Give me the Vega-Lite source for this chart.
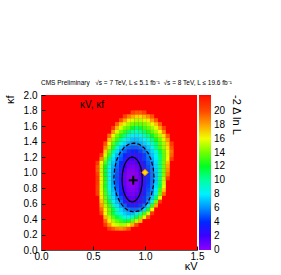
{
"$schema":"https://vega.github.io/schema/vega-lite/v6.json",
"width":156,"height":155,
"autosize":"none",
"padding":{"left":41,"top":95,"right":84,"bottom":25},
"background":"white",
"config":{"view":{"fill":"#ff0000","stroke":null},"font":"Liberation Sans","axis":{"labelOverlap":false}},
"title":{"text":"CMS Preliminary\u00a0\u00a0 √s = 7 TeV, L ≤ 5.1 fb⁻¹\u00a0 √s = 8 TeV, L ≤ 19.6 fb⁻¹","anchor":"start","frame":"group","fontSize":6.5,"fontWeight":"normal","offset":4,"font":"Liberation Sans","color":"black"},
"datasets":{
"cells":[
{"x":0.656,"y":0.275,"z":20.8},{"x":0.694,"y":0.275,"z":19.7},{"x":0.731,"y":0.275,"z":18.9},{"x":0.769,"y":0.275,"z":18.4},{"x":0.806,"y":0.275,"z":19.0},{"x":0.844,"y":0.275,"z":19.9},
{"x":0.619,"y":0.325,"z":20.7},{"x":0.656,"y":0.325,"z":18.3},{"x":0.694,"y":0.325,"z":16.3},{"x":0.731,"y":0.325,"z":15.3},{"x":0.769,"y":0.325,"z":14.6},{"x":0.806,"y":0.325,"z":14.8},{"x":0.844,"y":0.325,"z":15.8},{"x":0.881,"y":0.325,"z":17.6},{"x":0.919,"y":0.325,"z":20.2},
{"x":0.619,"y":0.375,"z":19.3},{"x":0.656,"y":0.375,"z":16.4},{"x":0.694,"y":0.375,"z":14.7},{"x":0.731,"y":0.375,"z":13.4},{"x":0.769,"y":0.375,"z":12.4},{"x":0.806,"y":0.375,"z":11.5},{"x":0.844,"y":0.375,"z":12.1},{"x":0.881,"y":0.375,"z":13.3},{"x":0.919,"y":0.375,"z":14.9},{"x":0.956,"y":0.375,"z":17.5},
{"x":0.619,"y":0.425,"z":17.5},{"x":0.656,"y":0.425,"z":14.9},{"x":0.694,"y":0.425,"z":13.1},{"x":0.731,"y":0.425,"z":11.6},{"x":0.769,"y":0.425,"z":10.2},{"x":0.806,"y":0.425,"z":9.0},{"x":0.844,"y":0.425,"z":8.2},{"x":0.881,"y":0.425,"z":9.5},{"x":0.919,"y":0.425,"z":11.3},{"x":0.956,"y":0.425,"z":13.2},{"x":0.994,"y":0.425,"z":15.5},{"x":1.031,"y":0.425,"z":19.8},
{"x":0.581,"y":0.475,"z":20.3},{"x":0.619,"y":0.475,"z":15.9},{"x":0.656,"y":0.475,"z":13.7},{"x":0.694,"y":0.475,"z":11.6},{"x":0.731,"y":0.475,"z":9.7},{"x":0.769,"y":0.475,"z":8.0},{"x":0.806,"y":0.475,"z":7.3},{"x":0.844,"y":0.475,"z":6.7},{"x":0.881,"y":0.475,"z":6.9},{"x":0.919,"y":0.475,"z":7.8},{"x":0.956,"y":0.475,"z":9.8},{"x":0.994,"y":0.475,"z":12.5},{"x":1.031,"y":0.475,"z":15.3},{"x":1.069,"y":0.475,"z":20.8},
{"x":0.581,"y":0.525,"z":19.4},{"x":0.619,"y":0.525,"z":15.8},{"x":0.656,"y":0.525,"z":13.7},{"x":0.694,"y":0.525,"z":11.6},{"x":0.731,"y":0.525,"z":9.3},{"x":0.769,"y":0.525,"z":7.5},{"x":0.806,"y":0.525,"z":6.4},{"x":0.844,"y":0.525,"z":5.44},{"x":0.881,"y":0.525,"z":5.03},{"x":0.919,"y":0.525,"z":5.11},{"x":0.956,"y":0.525,"z":5.68},{"x":0.994,"y":0.525,"z":7.5},{"x":1.031,"y":0.525,"z":11.6},{"x":1.069,"y":0.525,"z":15.9},
{"x":0.581,"y":0.575,"z":18.1},{"x":0.619,"y":0.575,"z":14.8},{"x":0.656,"y":0.575,"z":12.5},{"x":0.694,"y":0.575,"z":9.9},{"x":0.731,"y":0.575,"z":7.7},{"x":0.769,"y":0.575,"z":6.4},{"x":0.806,"y":0.575,"z":5.03},{"x":0.844,"y":0.575,"z":4.05},{"x":0.881,"y":0.575,"z":3.61},{"x":0.919,"y":0.575,"z":3.7},{"x":0.956,"y":0.575,"z":4.3},{"x":0.994,"y":0.575,"z":5.46},{"x":1.031,"y":0.575,"z":7.6},{"x":1.069,"y":0.575,"z":12.4},{"x":1.106,"y":0.575,"z":17.9},
{"x":0.581,"y":0.625,"z":17.25},{"x":0.619,"y":0.625,"z":14.1},{"x":0.656,"y":0.625,"z":11.5},{"x":0.694,"y":0.625,"z":8.6},{"x":0.731,"y":0.625,"z":6.9},{"x":0.769,"y":0.625,"z":5.3},{"x":0.806,"y":0.625,"z":3.71},{"x":0.844,"y":0.625,"z":2.65},{"x":0.881,"y":0.625,"z":2.17},{"x":0.919,"y":0.625,"z":2.27},{"x":0.956,"y":0.625,"z":2.92},{"x":0.994,"y":0.625,"z":4.17},{"x":1.031,"y":0.625,"z":5.94},{"x":1.069,"y":0.625,"z":9.0},{"x":1.106,"y":0.625,"z":13.9},{"x":1.144,"y":0.625,"z":20.75},
{"x":0.581,"y":0.675,"z":16.3},{"x":0.619,"y":0.675,"z":13.4},{"x":0.656,"y":0.675,"z":10.5},{"x":0.694,"y":0.675,"z":7.7},{"x":0.731,"y":0.675,"z":6.2},{"x":0.769,"y":0.675,"z":4.57},{"x":0.806,"y":0.675,"z":2.92},{"x":0.844,"y":0.675,"z":1.73},{"x":0.881,"y":0.675,"z":1.45},{"x":0.919,"y":0.675,"z":1.91},{"x":0.956,"y":0.675,"z":3.0},{"x":0.994,"y":0.675,"z":4.2},{"x":1.031,"y":0.675,"z":5.37},{"x":1.069,"y":0.675,"z":7.2},{"x":1.106,"y":0.675,"z":11.1},{"x":1.144,"y":0.675,"z":15.7},
{"x":0.544,"y":0.725,"z":20.5},{"x":0.581,"y":0.725,"z":15.7},{"x":0.619,"y":0.725,"z":12.7},{"x":0.656,"y":0.725,"z":9.7},{"x":0.694,"y":0.725,"z":7.25},{"x":0.731,"y":0.725,"z":5.67},{"x":0.769,"y":0.725,"z":3.87},{"x":0.806,"y":0.725,"z":2.15},{"x":0.844,"y":0.725,"z":1.16},{"x":0.881,"y":0.725,"z":0.89},{"x":0.919,"y":0.725,"z":1.33},{"x":0.956,"y":0.725,"z":2.43},{"x":0.994,"y":0.725,"z":3.69},{"x":1.031,"y":0.725,"z":4.9},{"x":1.069,"y":0.725,"z":6.3},{"x":1.106,"y":0.725,"z":9.1},{"x":1.144,"y":0.725,"z":13.6},{"x":1.181,"y":0.725,"z":19.2},
{"x":0.544,"y":0.775,"z":20.4},{"x":0.581,"y":0.775,"z":15.5},{"x":0.619,"y":0.775,"z":12.4},{"x":0.656,"y":0.775,"z":9.1},{"x":0.694,"y":0.775,"z":6.9},{"x":0.731,"y":0.775,"z":5.18},{"x":0.769,"y":0.775,"z":3.36},{"x":0.806,"y":0.775,"z":1.71},{"x":0.844,"y":0.775,"z":0.73},{"x":0.881,"y":0.775,"z":0.46},{"x":0.919,"y":0.775,"z":0.9},{"x":0.956,"y":0.775,"z":2.01},{"x":0.994,"y":0.775,"z":3.33},{"x":1.031,"y":0.775,"z":4.57},{"x":1.069,"y":0.775,"z":5.83},{"x":1.106,"y":0.775,"z":7.95},{"x":1.144,"y":0.775,"z":12.5},{"x":1.181,"y":0.775,"z":17.2},
{"x":0.544,"y":0.825,"z":20.4},{"x":0.581,"y":0.825,"z":15.35},{"x":0.619,"y":0.825,"z":12.1},{"x":0.656,"y":0.825,"z":8.7},{"x":0.694,"y":0.825,"z":6.6},{"x":0.731,"y":0.825,"z":4.85},{"x":0.769,"y":0.825,"z":3.02},{"x":0.806,"y":0.825,"z":1.41},{"x":0.844,"y":0.825,"z":0.44},{"x":0.881,"y":0.825,"z":0.17},{"x":0.919,"y":0.825,"z":0.6},{"x":0.956,"y":0.825,"z":1.71},{"x":0.994,"y":0.825,"z":3.1},{"x":1.031,"y":0.825,"z":4.33},{"x":1.069,"y":0.825,"z":5.6},{"x":1.106,"y":0.825,"z":7.5},{"x":1.144,"y":0.825,"z":11.5},{"x":1.181,"y":0.825,"z":15.6},
{"x":0.544,"y":0.875,"z":20.9},{"x":0.581,"y":0.875,"z":15.6},{"x":0.619,"y":0.875,"z":12.2},{"x":0.656,"y":0.875,"z":8.6},{"x":0.694,"y":0.875,"z":6.4},{"x":0.731,"y":0.875,"z":4.67},{"x":0.769,"y":0.875,"z":2.87},{"x":0.806,"y":0.875,"z":1.27},{"x":0.844,"y":0.875,"z":0.29},{"x":0.881,"y":0.875,"z":0.02},{"x":0.919,"y":0.875,"z":0.46},{"x":0.956,"y":0.875,"z":1.56},{"x":0.994,"y":0.875,"z":3.0},{"x":1.031,"y":0.875,"z":4.2},{"x":1.069,"y":0.875,"z":5.47},{"x":1.106,"y":0.875,"z":7.2},{"x":1.144,"y":0.875,"z":11.0},{"x":1.181,"y":0.875,"z":15.1},
{"x":0.544,"y":0.925,"z":20.9},{"x":0.581,"y":0.925,"z":15.5},{"x":0.619,"y":0.925,"z":12.1},{"x":0.656,"y":0.925,"z":8.4},{"x":0.694,"y":0.925,"z":6.35},{"x":0.731,"y":0.925,"z":4.6},{"x":0.769,"y":0.925,"z":2.81},{"x":0.806,"y":0.925,"z":1.24},{"x":0.844,"y":0.925,"z":0.28},{"x":0.881,"y":0.925,"z":0.01},{"x":0.919,"y":0.925,"z":0.44},{"x":0.956,"y":0.925,"z":1.53},{"x":0.994,"y":0.925,"z":2.95},{"x":1.031,"y":0.925,"z":4.17},{"x":1.069,"y":0.925,"z":5.4},{"x":1.106,"y":0.925,"z":7.1},{"x":1.144,"y":0.925,"z":10.6},{"x":1.181,"y":0.925,"z":14.7},{"x":1.219,"y":0.925,"z":20.75},
{"x":0.544,"y":0.975,"z":20.4},{"x":0.581,"y":0.975,"z":15.25},{"x":0.619,"y":0.975,"z":11.9},{"x":0.656,"y":0.975,"z":8.4},{"x":0.694,"y":0.975,"z":6.4},{"x":0.731,"y":0.975,"z":4.66},{"x":0.769,"y":0.975,"z":2.9},{"x":0.806,"y":0.975,"z":1.35},{"x":0.844,"y":0.975,"z":0.39},{"x":0.881,"y":0.975,"z":0.13},{"x":0.919,"y":0.975,"z":0.56},{"x":0.956,"y":0.975,"z":1.64},{"x":0.994,"y":0.975,"z":3.01},{"x":1.031,"y":0.975,"z":4.2},{"x":1.069,"y":0.975,"z":5.45},{"x":1.106,"y":0.975,"z":7.1},{"x":1.144,"y":0.975,"z":10.2},{"x":1.181,"y":0.975,"z":14.0},{"x":1.219,"y":0.975,"z":19.1},
{"x":0.544,"y":1.025,"z":19.7},{"x":0.581,"y":1.025,"z":15.0},{"x":0.619,"y":1.025,"z":11.8},{"x":0.656,"y":1.025,"z":8.4},{"x":0.694,"y":1.025,"z":6.5},{"x":0.731,"y":1.025,"z":4.84},{"x":0.769,"y":1.025,"z":3.15},{"x":0.806,"y":1.025,"z":1.6},{"x":0.844,"y":1.025,"z":0.65},{"x":0.881,"y":1.025,"z":0.39},{"x":0.919,"y":1.025,"z":0.82},{"x":0.956,"y":1.025,"z":1.9},{"x":0.994,"y":1.025,"z":3.18},{"x":1.031,"y":1.025,"z":4.36},{"x":1.069,"y":1.025,"z":5.56},{"x":1.106,"y":1.025,"z":7.2},{"x":1.144,"y":1.025,"z":10.2},{"x":1.181,"y":1.025,"z":13.8},{"x":1.219,"y":1.025,"z":18.4},
{"x":0.544,"y":1.075,"z":19.7},{"x":0.581,"y":1.075,"z":15.1},{"x":0.619,"y":1.075,"z":12.0},{"x":0.656,"y":1.075,"z":8.8},{"x":0.694,"y":1.075,"z":6.7},{"x":0.731,"y":1.075,"z":5.14},{"x":0.769,"y":1.075,"z":3.5},{"x":0.806,"y":1.075,"z":1.98},{"x":0.844,"y":1.075,"z":1.05},{"x":0.881,"y":1.075,"z":0.79},{"x":0.919,"y":1.075,"z":1.21},{"x":0.956,"y":1.075,"z":2.26},{"x":0.994,"y":1.075,"z":3.44},{"x":1.031,"y":1.075,"z":4.58},{"x":1.069,"y":1.075,"z":5.75},{"x":1.106,"y":1.075,"z":7.4},{"x":1.144,"y":1.075,"z":10.3},{"x":1.181,"y":1.075,"z":13.7},{"x":1.219,"y":1.075,"z":17.8},
{"x":0.544,"y":1.125,"z":20.9},{"x":0.581,"y":1.125,"z":15.9},{"x":0.619,"y":1.125,"z":12.8},{"x":0.656,"y":1.125,"z":9.6},{"x":0.694,"y":1.125,"z":7.1},{"x":0.731,"y":1.125,"z":5.54},{"x":0.769,"y":1.125,"z":4.02},{"x":0.806,"y":1.125,"z":2.54},{"x":0.844,"y":1.125,"z":1.57},{"x":0.881,"y":1.125,"z":1.32},{"x":0.919,"y":1.125,"z":1.73},{"x":0.956,"y":1.125,"z":2.71},{"x":0.994,"y":1.125,"z":3.82},{"x":1.031,"y":1.125,"z":4.9},{"x":1.069,"y":1.125,"z":6.0},{"x":1.106,"y":1.125,"z":7.6},{"x":1.144,"y":1.125,"z":10.6},{"x":1.181,"y":1.125,"z":13.7},{"x":1.219,"y":1.125,"z":17.3},
{"x":0.581,"y":1.175,"z":18.6},{"x":0.619,"y":1.175,"z":14.2},{"x":0.656,"y":1.175,"z":11.0},{"x":0.694,"y":1.175,"z":7.7},{"x":0.731,"y":1.175,"z":6.0},{"x":0.769,"y":1.175,"z":4.7},{"x":0.806,"y":1.175,"z":3.41},{"x":0.844,"y":1.175,"z":2.21},{"x":0.881,"y":1.175,"z":1.99},{"x":0.919,"y":1.175,"z":2.38},{"x":0.956,"y":1.175,"z":3.35},{"x":0.994,"y":1.175,"z":4.35},{"x":1.031,"y":1.175,"z":5.33},{"x":1.069,"y":1.175,"z":6.5},{"x":1.106,"y":1.175,"z":7.9},{"x":1.144,"y":1.175,"z":10.6},{"x":1.181,"y":1.175,"z":13.3},{"x":1.219,"y":1.175,"z":16.0},{"x":1.256,"y":1.175,"z":20.5},
{"x":0.581,"y":1.225,"z":20.9},{"x":0.619,"y":1.225,"z":15.5},{"x":0.656,"y":1.225,"z":12.4},{"x":0.694,"y":1.225,"z":8.9},{"x":0.731,"y":1.225,"z":6.8},{"x":0.769,"y":1.225,"z":5.15},{"x":0.806,"y":1.225,"z":3.97},{"x":0.844,"y":1.225,"z":3.18},{"x":0.881,"y":1.225,"z":2.84},{"x":0.919,"y":1.225,"z":2.9},{"x":0.956,"y":1.225,"z":3.38},{"x":0.994,"y":1.225,"z":4.31},{"x":1.031,"y":1.225,"z":5.62},{"x":1.069,"y":1.225,"z":7.0},{"x":1.106,"y":1.225,"z":8.4},{"x":1.144,"y":1.225,"z":10.95},{"x":1.181,"y":1.225,"z":13.3},{"x":1.219,"y":1.225,"z":15.7},{"x":1.256,"y":1.225,"z":19.5},
{"x":0.619,"y":1.275,"z":16.95},{"x":0.656,"y":1.275,"z":13.6},{"x":0.694,"y":1.275,"z":10.5},{"x":0.731,"y":1.275,"z":7.65},{"x":0.769,"y":1.275,"z":6.0},{"x":0.806,"y":1.275,"z":4.92},{"x":0.844,"y":1.275,"z":4.19},{"x":0.881,"y":1.275,"z":3.86},{"x":0.919,"y":1.275,"z":3.93},{"x":0.956,"y":1.275,"z":4.38},{"x":0.994,"y":1.275,"z":5.23},{"x":1.031,"y":1.275,"z":6.4},{"x":1.069,"y":1.275,"z":7.5},{"x":1.106,"y":1.275,"z":9.25},{"x":1.144,"y":1.275,"z":11.5},{"x":1.181,"y":1.275,"z":13.6},{"x":1.219,"y":1.275,"z":15.7},{"x":1.256,"y":1.275,"z":19.15},
{"x":0.619,"y":1.325,"z":18.6},{"x":0.656,"y":1.325,"z":14.9},{"x":0.694,"y":1.325,"z":12.2},{"x":0.731,"y":1.325,"z":9.35},{"x":0.769,"y":1.325,"z":7.2},{"x":0.806,"y":1.325,"z":5.88},{"x":0.844,"y":1.325,"z":5.2},{"x":0.881,"y":1.325,"z":4.89},{"x":0.919,"y":1.325,"z":4.95},{"x":0.956,"y":1.325,"z":5.37},{"x":0.994,"y":1.325,"z":6.2},{"x":1.031,"y":1.325,"z":7.2},{"x":1.069,"y":1.325,"z":8.45},{"x":1.106,"y":1.325,"z":10.5},{"x":1.144,"y":1.325,"z":12.5},{"x":1.181,"y":1.325,"z":14.4},{"x":1.219,"y":1.325,"z":16.5},{"x":1.256,"y":1.325,"z":19.75},
{"x":0.619,"y":1.375,"z":19.8},{"x":0.656,"y":1.375,"z":15.9},{"x":0.694,"y":1.375,"z":13.1},{"x":0.731,"y":1.375,"z":10.9},{"x":0.769,"y":1.375,"z":8.85},{"x":0.806,"y":1.375,"z":7.56},{"x":0.844,"y":1.375,"z":6.8},{"x":0.881,"y":1.375,"z":6.1},{"x":0.919,"y":1.375,"z":6.3},{"x":0.956,"y":1.375,"z":6.76},{"x":0.994,"y":1.375,"z":7.34},{"x":1.031,"y":1.375,"z":7.98},{"x":1.069,"y":1.375,"z":9.43},{"x":1.106,"y":1.375,"z":10.95},{"x":1.144,"y":1.375,"z":12.8},{"x":1.181,"y":1.375,"z":14.55},{"x":1.219,"y":1.375,"z":17.0},{"x":1.256,"y":1.375,"z":20.6},
{"x":0.656,"y":1.425,"z":17.35},{"x":0.694,"y":1.425,"z":14.45},{"x":0.731,"y":1.425,"z":12.4},{"x":0.769,"y":1.425,"z":10.5},{"x":0.806,"y":1.425,"z":8.8},{"x":0.844,"y":1.425,"z":7.67},{"x":0.881,"y":1.425,"z":7.08},{"x":0.919,"y":1.425,"z":7.02},{"x":0.956,"y":1.425,"z":7.46},{"x":0.994,"y":1.425,"z":8.0},{"x":1.031,"y":1.425,"z":9.2},{"x":1.069,"y":1.425,"z":10.55},{"x":1.106,"y":1.425,"z":12.07},{"x":1.144,"y":1.425,"z":13.66},{"x":1.181,"y":1.425,"z":15.35},{"x":1.219,"y":1.425,"z":18.1},
{"x":0.656,"y":1.475,"z":19.3},{"x":0.694,"y":1.475,"z":15.7},{"x":0.731,"y":1.475,"z":13.8},{"x":0.769,"y":1.475,"z":12.1},{"x":0.806,"y":1.475,"z":10.5},{"x":0.844,"y":1.475,"z":9.15},{"x":0.881,"y":1.475,"z":8.1},{"x":0.919,"y":1.475,"z":7.87},{"x":0.956,"y":1.475,"z":8.55},{"x":0.994,"y":1.475,"z":9.5},{"x":1.031,"y":1.475,"z":10.6},{"x":1.069,"y":1.475,"z":11.9},{"x":1.106,"y":1.475,"z":13.2},{"x":1.144,"y":1.475,"z":14.7},{"x":1.181,"y":1.475,"z":16.5},{"x":1.219,"y":1.475,"z":19.6},
{"x":0.694,"y":1.525,"z":18.2},{"x":0.731,"y":1.525,"z":15.4},{"x":0.769,"y":1.525,"z":13.7},{"x":0.806,"y":1.525,"z":12.3},{"x":0.844,"y":1.525,"z":11.0},{"x":0.881,"y":1.525,"z":9.97},{"x":0.919,"y":1.525,"z":9.46},{"x":0.956,"y":1.525,"z":10.2},{"x":0.994,"y":1.525,"z":11.1},{"x":1.031,"y":1.525,"z":12.1},{"x":1.069,"y":1.525,"z":13.3},{"x":1.106,"y":1.525,"z":14.6},{"x":1.144,"y":1.525,"z":16.0},{"x":1.181,"y":1.525,"z":18.7},
{"x":0.694,"y":1.575,"z":20.7},{"x":0.731,"y":1.575,"z":17.6},{"x":0.769,"y":1.575,"z":15.4},{"x":0.806,"y":1.575,"z":14.0},{"x":0.844,"y":1.575,"z":12.9},{"x":0.881,"y":1.575,"z":11.95},{"x":0.919,"y":1.575,"z":11.14},{"x":0.956,"y":1.575,"z":11.76},{"x":0.994,"y":1.575,"z":12.5},{"x":1.031,"y":1.575,"z":13.4},{"x":1.069,"y":1.575,"z":14.5},{"x":1.106,"y":1.575,"z":15.65},{"x":1.144,"y":1.575,"z":17.8},{"x":1.181,"y":1.575,"z":20.35},
{"x":0.731,"y":1.625,"z":19.55},{"x":0.769,"y":1.625,"z":17.2},{"x":0.806,"y":1.625,"z":15.5},{"x":0.844,"y":1.625,"z":14.5},{"x":0.881,"y":1.625,"z":13.7},{"x":0.919,"y":1.625,"z":13.05},{"x":0.956,"y":1.625,"z":13.3},{"x":0.994,"y":1.625,"z":13.9},{"x":1.031,"y":1.625,"z":14.7},{"x":1.069,"y":1.625,"z":15.7},{"x":1.106,"y":1.625,"z":17.4},{"x":1.144,"y":1.625,"z":19.65},
{"x":0.769,"y":1.675,"z":19.9},{"x":0.806,"y":1.675,"z":17.95},{"x":0.844,"y":1.675,"z":16.3},{"x":0.881,"y":1.675,"z":15.4},{"x":0.919,"y":1.675,"z":14.8},{"x":0.956,"y":1.675,"z":14.85},{"x":0.994,"y":1.675,"z":15.45},{"x":1.031,"y":1.675,"z":16.3},{"x":1.069,"y":1.675,"z":17.9},{"x":1.106,"y":1.675,"z":19.7},
{"x":0.806,"y":1.725,"z":20.3},{"x":0.844,"y":1.725,"z":18.9},{"x":0.881,"y":1.725,"z":17.75},{"x":0.919,"y":1.725,"z":16.9},{"x":0.956,"y":1.725,"z":16.8},{"x":0.994,"y":1.725,"z":17.5},{"x":1.031,"y":1.725,"z":18.5},{"x":1.069,"y":1.725,"z":19.8},
{"x":0.881,"y":1.775,"z":20.2},{"x":0.919,"y":1.775,"z":19.7},{"x":0.956,"y":1.775,"z":19.65},{"x":0.994,"y":1.775,"z":20.1}
],
"c68":[
{"o":0,"x":0.974,"y":0.91},{"o":1,"x":0.971,"y":0.985},{"o":2,"x":0.961,"y":1.055},{"o":3,"x":0.946,"y":1.115},{"o":4,"x":0.926,"y":1.161},{"o":5,"x":0.902,"y":1.19},{"o":6,"x":0.877,"y":1.2},{"o":7,"x":0.852,"y":1.19},{"o":8,"x":0.829,"y":1.161},{"o":9,"x":0.808,"y":1.115},{"o":10,"x":0.793,"y":1.055},{"o":11,"x":0.783,"y":0.985},{"o":12,"x":0.78,"y":0.91},{"o":13,"x":0.783,"y":0.835},{"o":14,"x":0.793,"y":0.765},{"o":15,"x":0.808,"y":0.705},{"o":16,"x":0.829,"y":0.659},{"o":17,"x":0.852,"y":0.63},{"o":18,"x":0.877,"y":0.62},{"o":19,"x":0.902,"y":0.63},{"o":20,"x":0.926,"y":0.659},{"o":21,"x":0.946,"y":0.705},{"o":22,"x":0.961,"y":0.765},{"o":23,"x":0.971,"y":0.835},{"o":24,"x":0.974,"y":0.91}
],
"c95":[
{"o":0,"x":1.087,"y":0.935},{"o":1,"x":1.08,"y":1.05},{"o":2,"x":1.061,"y":1.158},{"o":3,"x":1.03,"y":1.25},{"o":4,"x":0.99,"y":1.32},{"o":5,"x":0.944,"y":1.365},{"o":6,"x":0.894,"y":1.38},{"o":7,"x":0.844,"y":1.365},{"o":8,"x":0.798,"y":1.32},{"o":9,"x":0.758,"y":1.25},{"o":10,"x":0.727,"y":1.158},{"o":11,"x":0.708,"y":1.05},{"o":12,"x":0.701,"y":0.935},{"o":13,"x":0.708,"y":0.82},{"o":14,"x":0.727,"y":0.713},{"o":15,"x":0.758,"y":0.62},{"o":16,"x":0.798,"y":0.55},{"o":17,"x":0.844,"y":0.505},{"o":18,"x":0.894,"y":0.49},{"o":19,"x":0.944,"y":0.505},{"o":20,"x":0.99,"y":0.55},{"o":21,"x":1.03,"y":0.62},{"o":22,"x":1.061,"y":0.713},{"o":23,"x":1.08,"y":0.82},{"o":24,"x":1.087,"y":0.935}
]
},
"layer":[
{"data":{"name":"cells"},
 "mark":{"type":"rect","width":4,"height":4},
 "encoding":{
  "x":{"field":"x","type":"quantitative","scale":{"domain":[0,1.5],"nice":false,"zero":false},
   "axis":{"values":[0,0.5,1,1.5],"tickCount":4,"format":".1f","title":"κV","titleAnchor":"end","titleAlign":"right","titleX":156,"titleY":19,"titleBaseline":"alphabetic","titleFontSize":11,"titleFontWeight":"normal","titleFont":"Liberation Sans","titleColor":"black","labelFontSize":10,"labelColor":"black","labelFont":"Liberation Sans","tickSize":-4,"tickColor":"black","labelPadding":5,"domainColor":"#555","grid":false,"labelFlush":false,"labelOverlap":false}},
  "y":{"field":"y","type":"quantitative","scale":{"domain":[0,2],"nice":false,"zero":false},
   "axis":{"values":[0,0.2,0.4,0.6,0.8,1,1.2,1.4,1.6,1.8,2],"tickCount":11,"format":".1f","title":"κf","titleAnchor":"end","titleAngle":270,"titleAlign":"right","titleX":-28,"titleY":0,"titleBaseline":"alphabetic","titleFontSize":11,"titleFontWeight":"normal","titleFont":"Liberation Sans","titleColor":"black","labelFontSize":10,"labelColor":"black","labelFont":"Liberation Sans","tickSize":-4,"tickColor":"black","labelPadding":8,"domainColor":"#555","grid":false,"labelFlush":false,"labelOverlap":false}},
  "color":{"field":"z","type":"quantitative",
   "scale":{"domain":[-0.05,2,4,6,8,10,12,14,16,18,20,22.3],"range":["#8c00ff","#3c00ff","#0028ff","#0090ff","#00f0ff","#00ffa0","#00ff20","#70ff00","#f0ff00","#ffa000","#ff4800","#ff0000"],"clamp":true},
   "legend":{"orient":"none","legendX":158,"legendY":0,"direction":"vertical","gradientLength":155,"gradientThickness":12,"gradientStrokeWidth":0,"values":[0,2,4,6,8,10,12,14,16,18,20],"labelFontSize":10,"labelColor":"black","labelFont":"Liberation Sans","labelOffset":3,"labelOverlap":false,"title":"-2 Δ ln L","titleOrient":"right","titleAngle":270,"titleFontSize":11,"titleFontWeight":"normal","titleFont":"Liberation Sans","titleColor":"black","titleAnchor":"end","titleBaseline":"bottom","titlePadding":6}}
 }},
{"data":{"name":"c68"},"mark":{"type":"line","color":"black","strokeWidth":1.2},
 "encoding":{"x":{"field":"x","type":"quantitative"},"y":{"field":"y","type":"quantitative"},"order":{"field":"o","type":"quantitative"}}},
{"data":{"name":"c95"},"mark":{"type":"line","color":"black","strokeWidth":1.2,"strokeDash":[4,2]},
 "encoding":{"x":{"field":"x","type":"quantitative"},"y":{"field":"y","type":"quantitative"},"order":{"field":"o","type":"quantitative"}}},
{"data":{"values":[{"x":0.887,"y":0.9}]},"mark":{"type":"point","shape":"M-1,0H1M0,-1V1","filled":false,"color":"black","strokeWidth":2,"size":80,"opacity":1},
 "encoding":{"x":{"field":"x","type":"quantitative"},"y":{"field":"y","type":"quantitative"}}},
{"data":{"values":[{"x":1.0,"y":1.0}]},"mark":{"type":"point","shape":"diamond","filled":true,"fill":"#ffe000","stroke":"#ff7f00","strokeWidth":1,"size":40,"opacity":1},
 "encoding":{"x":{"field":"x","type":"quantitative"},"y":{"field":"y","type":"quantitative"}}},
{"data":{"values":[{}]},"mark":{"type":"text","text":"κV, κf","align":"left","baseline":"alphabetic","fontSize":10,"font":"Liberation Sans","color":"black"},
 "encoding":{"x":{"datum":0.375},"y":{"datum":1.832}}}
]
}
